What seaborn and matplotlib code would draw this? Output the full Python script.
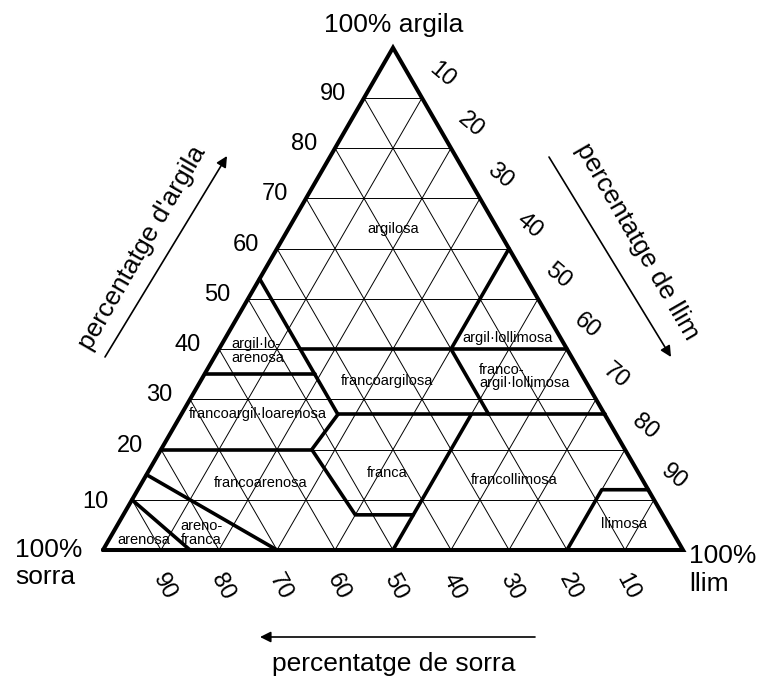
import numpy as np
import pandas as pd
import seaborn as sns
import matplotlib.pyplot as plt

# grid steps and tick labels (percent) for each side of the triangle
grid_steps = [10, 20, 30, 40, 50, 60, 70, 80, 90]
clay_ticks = [10, 20, 30, 40, 50, 60, 70, 80, 90]
silt_ticks = [10, 20, 30, 40, 50, 60, 70, 80, 90]
sand_ticks = [90, 80, 70, 60, 50, 40, 30, 20, 10]

# texture class boundaries as (clay %, silt %) points
b_sandy_clay = [(54, 0), (40, 14), (35, 19), (27, 27)]
b_clay_35 = [(35, 0), (35, 19)]
b_clay_40 = [(40, 14), (40, 60)]
b_silt_40 = [(60, 40), (40, 40)]
b_sand_20 = [(40, 40), (27, 53)]
b_clay_27 = [(27, 27), (27, 73)]
b_loam = [(27, 27), (20, 26), (7, 40), (7, 50)]
b_clay_20 = [(20, 0), (20, 26)]
b_silt_50 = [(0, 50), (27, 50)]
b_silt = [(0, 80), (12, 80), (12, 88)]
b_loamy_sand = [(15, 0), (0, 30)]
b_sand = [(10, 0), (0, 15)]
boundaries = [b_sandy_clay, b_clay_35, b_clay_40, b_silt_40, b_sand_20, b_clay_27,
              b_loam, b_clay_20, b_silt_50, b_silt, b_loamy_sand, b_sand]

# class names
class_names = ["argilosa", "argil·lo-\narenosa", "argil·lollimosa", "francoargilosa",
               "franco-\nargil·lollimosa", "francoargil·loarenosa", "francoarenosa",
               "franca", "francollimosa", "llimosa", "arenosa", "areno-\nfranca"]

# where each class name sits (clay %, silt %, alignment)
name_pos = [(64, 18, "center"), (39.6, 2.4, "left"), (42.2, 48.7, "center"),
            (33.7, 32.1, "center"), (34.5, 47.6, "left"), (27.1, 13.2, "center"),
            (13.3, 20.5, "center"), (15.3, 41.3, "center"), (13.9, 64, "center"),
            (5.2, 87.2, "center"), (2, 6.1, "center"), (3.4, 11.7, "left")]

PX = 5.8          # pixels per percent along the base
X0, Y0 = 103, 550  # pixel position of the 100% sand corner
H = np.sqrt(3) / 2


def tern(clay, silt):
    return silt + clay / 2, clay * H


def px(x, y):
    return (x - X0) / PX, (Y0 - y) / PX


sns.set_theme(style="white")
plt.rcParams["font.family"] = ["Liberation Sans", "DejaVu Sans"]
plt.rcParams["text.color"] = "black"

fig = plt.figure(figsize=(7.61, 6.82), dpi=100)
ax = fig.add_axes([0, 0, 1, 1])

# thin triangular grid
rows = []
seg = 0
for k in grid_steps:
    for a, b in [((k, 0), (k, 100 - k)), ((0, k), (100 - k, k)), ((0, 100 - k), (100 - k, 0))]:
        for c, s in (a, b):
            x, y = tern(c, s)
            rows.append({"x": x, "y": y, "seg": seg})
        seg += 1
grid_df = pd.DataFrame(rows)
sns.lineplot(data=grid_df, x="x", y="y", units="seg", estimator=None, sort=False,
             color="black", linewidth=0.7, ax=ax, legend=False)

# class boundaries
rows = []
for i, line in enumerate(boundaries):
    for c, s in line:
        x, y = tern(c, s)
        rows.append({"x": x, "y": y, "seg": i})
bound_df = pd.DataFrame(rows)
sns.lineplot(data=bound_df, x="x", y="y", units="seg", estimator=None, sort=False,
             color="black", linewidth=2.6, ax=ax, legend=False)

# outer triangle
corners = [(0, 0), (0, 100), (100, 0), (0, 0)]
tri = pd.DataFrame([tern(c, s) for c, s in corners], columns=["x", "y"])
sns.lineplot(data=tri, x="x", y="y", estimator=None, sort=False, color="black",
             linewidth=2.9, ax=ax, legend=False, solid_joinstyle="miter")

# class names
for name, (c, s, ha) in zip(class_names, name_pos):
    x, y = tern(c, s)
    if ha == "left":
        ax.text(x, y, name, ha="left", va="center", fontsize=10.5, linespacing=0.95)
    else:
        ax.text(x, y, name, ha="center", va="center", fontsize=10.5)

# tick labels
for k in clay_ticks:
    x, y = tern(k, 0)
    dx, dy = (-37, -2) if k == 10 else (-31, 4)
    ax.text(x + dx / PX, y + dy / PX, str(k), ha="center", va="center", fontsize=17)
for k in silt_ticks:
    x, y = tern(100 - k, k)
    ax.text(x + 20 / PX, y + 23 / PX, str(k), ha="center", va="center",
            fontsize=17, rotation=-40)
for k in sand_ticks:
    x, y = tern(0, 100 - k)
    ax.text(x + 3 / PX, y - 37 / PX, str(k), ha="center", va="center",
            fontsize=17, rotation=-62)

# corner labels
ax.text(*px(394, 32), "100% argila", ha="center", va="baseline", fontsize=19)
ax.text(*px(15, 557), "100%", ha="left", va="baseline", fontsize=19)
ax.text(*px(15, 584), "sorra", ha="left", va="baseline", fontsize=19)
ax.text(*px(689, 563), "100%", ha="left", va="baseline", fontsize=19)
ax.text(*px(689, 591), "llim", ha="left", va="baseline", fontsize=19)

# axis titles and arrows
arrow = dict(arrowstyle="-|>", color="black", lw=1.2, mutation_scale=16, shrinkA=0, shrinkB=0)
ax.annotate("", xy=px(227, 156), xytext=px(105, 357), arrowprops=arrow)
ax.annotate("", xy=px(671, 357), xytext=px(549, 157), arrowprops=arrow)
ax.annotate("", xy=px(260, 637), xytext=px(535, 637), arrowprops=arrow)
ax.text(*px(142, 248), "percentatge d'argila", ha="center", va="center",
        fontsize=19, rotation=60)
ax.text(*px(637, 242), "percentatge de llim", ha="center", va="center",
        fontsize=19, rotation=-60)
ax.text(*px(394, 664), "percentatge de sorra", ha="center", va="center", fontsize=19)

ax.set_xlim(-X0 / PX, (761 - X0) / PX)
ax.set_ylim(-(682 - Y0) / PX, Y0 / PX)
ax.set_axis_off()

fig.savefig("out.png", dpi=100, facecolor="white")
